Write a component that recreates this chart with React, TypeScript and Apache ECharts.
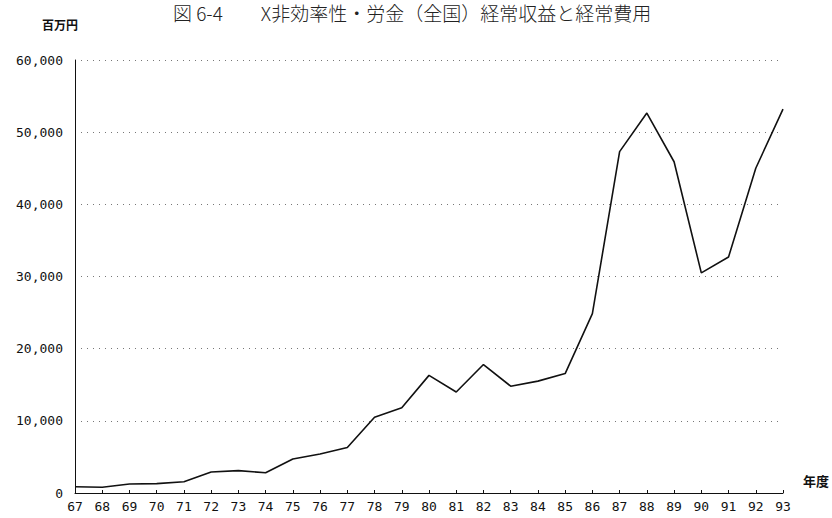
import React, { useEffect, useRef } from "react";
import * as echarts from "echarts";

const years = ["67","68","69","70","71","72","73","74","75","76","77","78","79","80","81","82","83","84","85","86","87","88","89","90","91","92","93"];
const values = [870, 800, 1250, 1300, 1550, 2900, 3100, 2800, 4700, 5400, 6300, 10500, 11800, 16300, 14000, 17800, 14800, 15500, 16550, 24850, 47300, 52650, 45900, 30500, 32700, 45000, 53200];
const yTicks = [0, 10000, 20000, 30000, 40000, 50000, 60000];
const titleText = "図 6-4　　X非効率性・労金（全国）経常収益と経常費用";
const yUnit = "百万円";
const xUnit = "年度";

export default function App() {
  const ref = useRef<HTMLDivElement>(null);
  useEffect(() => {
    if (!ref.current) return;
    const chart = echarts.init(ref.current, null, { renderer: "svg" });
    chart.setOption({
      animation: false,
      backgroundColor: "#ffffff",
      grid: { left: 75, right: 49, top: 60, bottom: 25, containLabel: false },
      graphic: [
        {
          type: "text",
          left: 173,
          top: 3,
          style: { text: titleText, fontSize: 19, lineHeight: 19, fontFamily: "Noto Sans CJK JP", fill: "#222", fontWeight: 300 },
        },
        {
          type: "text",
          left: 42,
          top: 18,
          style: { text: yUnit, fontSize: 12, fontFamily: "Noto Sans CJK JP", fontWeight: "bold", fill: "#111" },
        },
        {
          type: "text",
          left: 803,
          top: 474,
          style: { text: xUnit, fontSize: 13, fontFamily: "Noto Sans CJK JP", fontWeight: "bold", fill: "#111" },
        },
      ],
      xAxis: {
        type: "category",
        data: years,
        boundaryGap: false,
        axisLine: { lineStyle: { color: "#111", width: 1 } },
        axisTick: { show: true, inside: true, length: 3, lineStyle: { color: "#111" } },
        axisLabel: { color: "#111", fontSize: 13, fontFamily: "DejaVu Sans Mono", margin: 7, interval: 0 },
        splitLine: { show: false },
      },
      yAxis: {
        type: "value",
        min: yTicks[0],
        max: yTicks[yTicks.length - 1],
        interval: 10000,
        axisLine: { show: true, lineStyle: { color: "#111", width: 1 } },
        axisTick: { show: false },
        axisLabel: {
          color: "#111",
          fontSize: 13,
          fontFamily: "DejaVu Sans Mono",
          margin: 12,
          formatter: (v: number) => v.toLocaleString("en-US"),
        },
        splitLine: { show: true, lineStyle: { color: "#777", type: [1, 5], width: 1 } },
      },
      series: [
        {
          type: "line",
          data: values,
          symbol: "none",
          lineStyle: { color: "#111", width: 1.6 },
        },
      ],
    });
    return () => chart.dispose();
  }, []);
  return <div ref={ref} style={{ width: 832, height: 518, position: "absolute", left: 0, top: 0 }} />;
}
